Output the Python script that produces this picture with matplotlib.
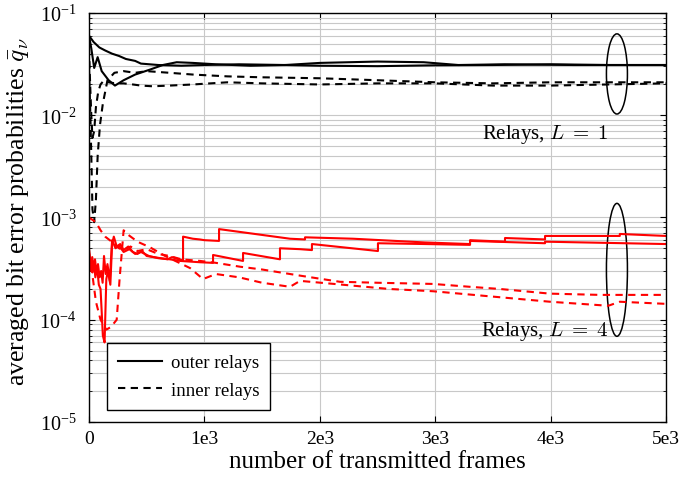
import matplotlib
matplotlib.use("Agg")
import matplotlib.pyplot as plt
from matplotlib.patches import Ellipse
from matplotlib.ticker import LogLocator, NullFormatter

plt.rcParams['font.family'] = ['Liberation Serif', 'DejaVu Serif']
plt.rcParams['mathtext.fontset'] = 'cm'

# --- data (frames, averaged BER) ---
# L = 1, outer relays (solid, black)
l1_outer_a_x = [0, 40, 90, 140, 200, 260, 320, 400, 450, 600, 800, 1000, 1300, 1700, 2000, 2500, 3000, 3500, 4000, 4500, 5000]
l1_outer_a_y = [0.060, 0.052, 0.046, 0.043, 0.040, 0.038, 0.0355, 0.034, 0.032, 0.031, 0.0305, 0.031, 0.0315, 0.031, 0.0305, 0.0302, 0.0308, 0.031, 0.0315, 0.031, 0.031]
l1_outer_b_x = [0, 20, 45, 75, 110, 170, 225, 300, 400, 530, 640, 760, 900, 1100, 1400, 1700, 2000, 2500, 2900, 3200, 3600, 4200, 5000]
l1_outer_b_y = [0.060, 0.045, 0.029, 0.037, 0.027, 0.022, 0.0195, 0.022, 0.025, 0.028, 0.031, 0.033, 0.0325, 0.0315, 0.0305, 0.031, 0.0325, 0.0335, 0.033, 0.031, 0.0315, 0.031, 0.031]
# L = 1, inner relays (dashed, black)
l1_inner_a_x = [0, 10, 20, 30, 45, 60, 75, 95, 120, 160, 220, 300, 400, 500, 700, 900, 1200, 1500, 2000, 2500, 3000, 3500, 4000, 4500, 5000]
l1_inner_a_y = [0.030, 0.012, 0.004, 0.0012, 0.0009, 0.0015, 0.004, 0.008, 0.013, 0.022, 0.026, 0.027, 0.026, 0.027, 0.026, 0.025, 0.024, 0.0235, 0.023, 0.022, 0.021, 0.0205, 0.021, 0.021, 0.021]
l1_inner_b_x = [0, 10, 20, 30, 45, 60, 80, 100, 130, 170, 230, 300, 380, 450, 550, 700, 900, 1200, 1500, 2000, 2500, 3000, 3500, 4000, 4500, 5000]
l1_inner_b_y = [0.045, 0.020, 0.010, 0.006, 0.007, 0.012, 0.017, 0.020, 0.022, 0.021, 0.0205, 0.0205, 0.020, 0.0195, 0.0192, 0.0195, 0.020, 0.021, 0.0205, 0.020, 0.0205, 0.0205, 0.0195, 0.0195, 0.020, 0.0205]

# L = 4, outer relays (solid, red)
l4_outer_a_x = [0, 10, 20, 30, 42, 55, 70, 85, 100, 110, 120, 135, 150, 165, 185, 200, 215, 240, 270, 300, 340, 380, 420, 460, 500, 560, 620, 680, 720, 780, 815, 815, 900, 960, 1000, 1127, 1127, 1742, 1872, 1872, 2288, 2912, 3302, 3302, 3605, 3605, 3952, 3952, 4600, 4600, 5000]
l4_outer_a_y = [4.8e-4, 3.0e-4, 3.8e-4, 2.9e-4, 3.6e-4, 2.6e-4, 3.3e-4, 2.2e-4, 2.0e-4, 1.2e-4, 7e-5, 6e-5, 2.5e-4, 3.0e-4, 2.2e-4, 5.5e-4, 6.5e-4, 5.2e-4, 5.5e-4, 4.8e-4, 5.2e-4, 4.6e-4, 4.4e-4, 4.7e-4, 4.2e-4, 4.1e-4, 4.0e-4, 3.9e-4, 4.1e-4, 3.9e-4, 3.8e-4, 6.5e-4, 6.2e-4, 6.1e-4, 6.0e-4, 5.9e-4, 7.7e-4, 6.2e-4, 6.1e-4, 6.4e-4, 6.2e-4, 5.7e-4, 5.5e-4, 6.0e-4, 5.8e-4, 6.3e-4, 6.1e-4, 6.6e-4, 6.6e-4, 6.9e-4, 6.6e-4]
l4_outer_b_x = [0, 15, 28, 40, 52, 65, 78, 92, 105, 118, 130, 145, 160, 180, 200, 230, 260, 300, 350, 400, 450, 520, 600, 700, 790, 962, 1075, 1075, 1335, 1335, 1655, 1655, 1829, 1932, 1932, 2504, 2504, 2912, 3302, 3302, 3952, 3952, 5000]
l4_outer_b_y = [4.9e-4, 3.4e-4, 4.1e-4, 3.2e-4, 3.9e-4, 2.9e-4, 3.5e-4, 2.6e-4, 3.0e-4, 2.3e-4, 4.2e-4, 2.8e-4, 3.5e-4, 2.4e-4, 6.0e-4, 5.0e-4, 5.3e-4, 4.6e-4, 4.9e-4, 4.4e-4, 4.6e-4, 4.2e-4, 4.0e-4, 3.9e-4, 3.76e-4, 3.65e-4, 3.6e-4, 4.3e-4, 3.76e-4, 4.5e-4, 3.9e-4, 5.0e-4, 4.9e-4, 4.8e-4, 5.5e-4, 4.7e-4, 5.6e-4, 5.5e-4, 5.4e-4, 5.9e-4, 5.6e-4, 5.8e-4, 5.5e-4]
# L = 4, inner relays (dashed, red)
l4_inner_a_x = [0, 25, 60, 100, 150, 190, 240, 265, 300, 330, 420, 530, 660, 876, 988, 1100, 1300, 1500, 1742, 1829, 2200, 2600, 2981, 3560, 3995, 4500, 4600, 5000]
l4_inner_a_y = [4.5e-4, 3.0e-4, 1.5e-4, 1.0e-4, 8e-5, 8.5e-5, 1.0e-4, 2.5e-4, 7.5e-4, 6.9e-4, 5.8e-4, 5.1e-4, 4.2e-4, 3.2e-4, 2.5e-4, 2.8e-4, 2.6e-4, 2.3e-4, 2.1e-4, 2.4e-4, 2.2e-4, 2.0e-4, 1.9e-4, 1.66e-4, 1.5e-4, 1.37e-4, 1.5e-4, 1.43e-4]
l4_inner_b_x = [0, 60, 100, 140, 180, 220, 260, 300, 360, 420, 500, 600, 700, 800, 962, 1100, 1310, 1500, 1829, 2175, 2500, 2981, 3300, 3560, 3995, 4430, 5000]
l4_inner_b_y = [1.0e-3, 9e-4, 7.5e-4, 6.5e-4, 6.0e-4, 5.5e-4, 5.0e-4, 4.8e-4, 5.2e-4, 4.7e-4, 4.9e-4, 4.4e-4, 4.2e-4, 3.9e-4, 3.76e-4, 3.6e-4, 3.3e-4, 3.1e-4, 2.7e-4, 2.35e-4, 2.3e-4, 2.24e-4, 2.1e-4, 2.0e-4, 1.8e-4, 1.75e-4, 1.75e-4]

x_ticks = [0, 1000, 2000, 3000, 4000, 5000]
x_tick_labels = ['0', '1e3', '2e3', '3e3', '4e3', '5e3']

dash = (0, (3.5, 2.6))
lw = 1.5

fig = plt.figure(figsize=(6.82, 4.81), dpi=100)
ax = fig.add_axes([0.1305, 0.1206, 0.846, 0.8503])

ax.plot(l1_outer_a_x, l1_outer_a_y, color='black', lw=lw, label='outer relays')
ax.plot(l1_outer_b_x, l1_outer_b_y, color='black', lw=lw)
ax.plot(l1_inner_a_x, l1_inner_a_y, color='black', lw=lw, ls=dash, label='inner relays')
ax.plot(l1_inner_b_x, l1_inner_b_y, color='black', lw=lw, ls=dash)
ax.plot(l4_outer_a_x, l4_outer_a_y, color='red', lw=lw)
ax.plot(l4_outer_b_x, l4_outer_b_y, color='red', lw=lw)
ax.plot(l4_inner_a_x, l4_inner_a_y, color='red', lw=lw, ls=dash)
ax.plot(l4_inner_b_x, l4_inner_b_y, color='red', lw=lw, ls=dash)

ax.set_yscale('log')
ax.set_xlim(0, 5000)
ax.set_ylim(1e-5, 1e-1)
ax.set_xticks(x_ticks)
ax.set_xticklabels(x_tick_labels)
ax.yaxis.set_major_locator(LogLocator(base=10, numticks=10))
ax.yaxis.set_minor_locator(LogLocator(base=10, subs=range(2, 10), numticks=10))
ax.yaxis.set_minor_formatter(NullFormatter())

ax.grid(True, which='major', color='#c8c8c8', lw=0.8)
ax.grid(True, which='minor', axis='y', color='#c8c8c8', lw=0.8)
ax.set_axisbelow(True)
ax.tick_params(which='both', direction='in', top=True, right=True)
ax.tick_params(axis='x', labelsize=14, pad=6)
ax.tick_params(axis='y', labelsize=14.5, pad=9)
ax.tick_params(which='major', length=4)
ax.tick_params(which='minor', length=2.5)
for s in ax.spines.values():
    s.set_linewidth(1.0)

ax.set_xlabel('number of transmitted frames', fontsize=18, labelpad=2)
fig.text(0.027, 0.560, r'averaged bit error probabilities $\bar{q}_\nu$',
         rotation=90, ha='center', va='center', fontsize=18.5)

# ellipses marking the groups
ax.add_patch(Ellipse((0.915, 0.851), 0.0364, 0.196, transform=ax.transAxes,
                     fill=False, ec='black', lw=1.1))
ax.add_patch(Ellipse((0.915, 0.372), 0.0364, 0.325, transform=ax.transAxes,
                     fill=False, ec='black', lw=1.1))
ax.text(4500, 6.7e-3, r'Relays, $L\;=\;1$', ha='right', va='center', fontsize=15)
ax.text(4500, 7.9e-5, r'Relays, $L\;=\;4$', ha='right', va='center', fontsize=15)

leg = ax.legend(loc='lower left', bbox_to_anchor=(0.031, 0.029), borderaxespad=0,
                fontsize=13.5, fancybox=False, framealpha=1, edgecolor='black',
                handlelength=2.35, handletextpad=0.45, borderpad=0.6, labelspacing=0.55)
leg.get_frame().set_linewidth(1.0)

fig.savefig('out.png', dpi=100)
